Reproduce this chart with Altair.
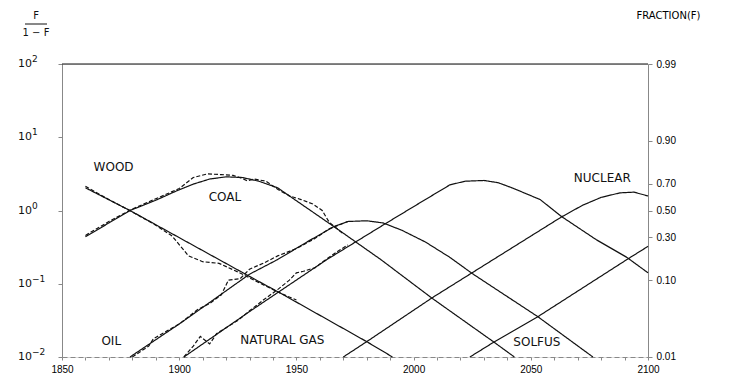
import altair as alt
import pandas as pd

# ---- values: year, F/(1-F) ----
wood_years = [1860, 1879, 1930, 1944, 1980, 1991]
wood_vals = [2.04, 1.0, 0.126, 0.072, 0.0162, 0.01]

coal_years = [1860, 1870, 1879, 1890, 1899, 1906, 1913, 1920, 1927, 1934, 1942, 1966, 1986, 2008, 2034, 2043]
coal_vals = [0.437, 0.676, 1.0, 1.38, 1.86, 2.29, 2.69, 2.88, 2.82, 2.51, 2.04, 0.603, 0.214, 0.063, 0.0162, 0.01]

oil_years = [1879, 1900, 1930, 1942, 1955, 1966, 1972, 1980, 1987, 1995, 2005, 2015.5, 2025, 2053, 2076.5]
oil_vals = [0.01, 0.0282, 0.135, 0.214, 0.38, 0.603, 0.708, 0.724, 0.676, 0.537, 0.372, 0.229, 0.138, 0.0355, 0.01]

gas_years = [1902, 1930, 1963, 1989, 2005, 2015.5, 2022, 2030, 2036, 2042, 2054, 2063, 2078, 2091, 2100]
gas_vals = [0.01, 0.0417, 0.214, 0.692, 1.41, 2.24, 2.51, 2.57, 2.40, 2.04, 1.41, 0.832, 0.398, 0.229, 0.141]

nuclear_years = [1970, 1980, 2008, 2034, 2050, 2063, 2072, 2080, 2088, 2094, 2100]
nuclear_vals = [0.01, 0.0162, 0.0646, 0.214, 0.447, 0.813, 1.175, 1.51, 1.74, 1.78, 1.58]

solfus_years = [2024, 2034, 2053, 2091, 2100]
solfus_vals = [0.01, 0.0158, 0.0355, 0.214, 0.324]

# historical (dashed) data
wood_hist_years = [1860, 1870, 1880, 1890, 1897, 1904, 1910, 1917, 1925, 1935, 1944, 1950]
wood_hist_vals = [2.14, 1.41, 0.955, 0.631, 0.447, 0.24, 0.2, 0.19, 0.145, 0.1, 0.0724, 0.06]

coal_hist_years = [1860, 1870, 1880, 1890, 1900, 1906, 1912, 1918, 1923, 1926, 1929, 1932, 1937, 1942, 1947, 1952, 1957, 1961, 1964, 1970]
coal_hist_vals = [0.457, 0.708, 1.047, 1.445, 1.995, 2.82, 3.16, 3.09, 3.02, 2.8, 2.55, 2.69, 2.51, 1.95, 1.585, 1.41, 1.23, 1.0, 0.692, 0.479]

oil_hist_years = [1880, 1887, 1889, 1895, 1900, 1908, 1913, 1918, 1921, 1926, 1930, 1936, 1942, 1950, 1958, 1964, 1968, 1972]
oil_hist_vals = [0.01, 0.0141, 0.0178, 0.0229, 0.0282, 0.0447, 0.0537, 0.0708, 0.112, 0.117, 0.158, 0.191, 0.24, 0.302, 0.417, 0.562, 0.631, 0.708]

gas_hist_years = [1902, 1906, 1909, 1913, 1916, 1920, 1925, 1930, 1936, 1942, 1947, 1950, 1953, 1958, 1963, 1968, 1972]
gas_hist_vals = [0.01, 0.0141, 0.0191, 0.0151, 0.0209, 0.0251, 0.0316, 0.0427, 0.0603, 0.0832, 0.112, 0.141, 0.148, 0.166, 0.219, 0.282, 0.339]

# curve labels
label_text = ["WOOD", "COAL", "OIL", "NATURAL GAS", "NUCLEAR", "SOLFUS"]
label_years = [1872, 1919.5, 1871, 1944, 2080.5, 2052.6]
label_vals = [3.98, 1.55, 0.0163, 0.017, 2.82, 0.0158]

# axes
left_ticks = [0.01, 0.1, 1, 10, 100]
left_exponents = ["−2", "−1", "0", "1", "2"]
right_fracs = [0.01, 0.10, 0.30, 0.50, 0.70, 0.90, 0.99]
year_ticks = list(range(1850, 2101, 10))
x_range = [1850, 2100]
y_range = [0.01, 100]

rows = []
def add(name, kind, ys, vs):
    for y, v in zip(ys, vs):
        rows.append({"series": name + "_" + kind, "kind": kind, "year": y, "value": v})

add("wood", "model", wood_years, wood_vals)
add("coal", "model", coal_years, coal_vals)
add("oil", "model", oil_years, oil_vals)
add("gas", "model", gas_years, gas_vals)
add("nuclear", "model", nuclear_years, nuclear_vals)
add("solfus", "model", solfus_years, solfus_vals)
add("wood", "data", wood_hist_years, wood_hist_vals)
add("coal", "data", coal_hist_years, coal_hist_vals)
add("oil", "data", oil_hist_years, oil_hist_vals)
add("gas", "data", gas_hist_years, gas_hist_vals)
df = pd.DataFrame(rows)

labels_df = pd.DataFrame({"text": label_text, "year": label_years, "value": label_vals})
right_df = pd.DataFrame({"v": [f / (1 - f) for f in right_fracs], "year": [2100] * len(right_fracs)})
left_df = pd.DataFrame({"v": left_ticks, "exp": left_exponents})

FONT = "DejaVu Sans"
INK = "#111111"
xscale = alt.Scale(domain=x_range, nice=False, zero=False)
yscale = alt.Scale(type="log", domain=y_range, nice=False)

bottom_axis = alt.Axis(
    orient="bottom", values=year_ticks, format="d",
    labelExpr="datum.value % 50 == 0 ? datum.label : ''",
    labelFlush=False, labelOverlap=False, tickSize=3, labelPadding=4,
    domainDash=[5, 3], title=None, grid=False,
)
left_axis = alt.Axis(orient="left", values=left_ticks, labels=False, tickSize=4, title=None, grid=False)
right_axis = alt.Axis(
    orient="right", values=[f / (1 - f) for f in right_fracs],
    labelExpr="format(datum.value/(1+datum.value), '.2f')",
    tickSize=4, labelPadding=4, grid=False,
    title="FRACTION(F)", titleAngle=0, titleX=20, titleY=-49,
    titleAlign="center", titleBaseline="middle", titleFontWeight="normal",
    titleFontSize=10, titleFont=FONT,
)

lines = alt.Chart(df).mark_line(color=INK, strokeWidth=1.2).encode(
    x=alt.X("year:Q", scale=xscale, axis=bottom_axis),
    y=alt.Y("value:Q", scale=yscale, axis=left_axis),
    detail="series:N",
    strokeDash=alt.StrokeDash("kind:N", scale=alt.Scale(domain=["model", "data"], range=[[1, 0], [4, 2]]), legend=None),
)

right = alt.Chart(right_df).mark_point(opacity=0).encode(
    x=alt.X("year:Q", scale=xscale, axis=None),
    y=alt.Y("v:Q", scale=yscale, axis=right_axis),
)

# left tick labels as 10 with raised exponent
ten = alt.Chart(left_df).mark_text(text="10", fontSize=11, font=FONT, color=INK, align="left", baseline="middle").encode(
    x=alt.value(-44), y=alt.Y("v:Q", scale=yscale, axis=None))
exps = alt.Chart(left_df).mark_text(fontSize=9, font=FONT, color=INK, align="left", baseline="middle", dy=-5).encode(
    x=alt.value(-30), y=alt.Y("v:Q", scale=yscale, axis=None), text="exp:N")

one = alt.Data(values=[{"a": 1}])
top_border = alt.Chart(one).mark_rule(color=INK, strokeWidth=1.1).encode(
    x=alt.datum(x_range[0], scale=xscale, axis=None),
    x2=alt.datum(x_range[1]),
    y=alt.datum(y_range[1], scale=yscale, axis=None),
)

labels = alt.Chart(labels_df).mark_text(fontSize=12, font=FONT, color=INK, align="center", baseline="middle").encode(
    x=alt.X("year:Q", scale=xscale, axis=None),
    y=alt.Y("value:Q", scale=yscale, axis=None),
    text="text:N",
)

f_top = alt.Chart(one).mark_text(text="F", fontSize=10, font=FONT, color=INK).encode(
    x=alt.value(-26), y=alt.value(-48))
f_bar = alt.Chart(one).mark_rule(color=INK, strokeWidth=1).encode(
    x=alt.value(-37), x2=alt.value(-15), y=alt.value(-40))
f_bot = alt.Chart(one).mark_text(text="1 − F", fontSize=10, font=FONT, color=INK).encode(
    x=alt.value(-26), y=alt.value(-31))

chart = alt.layer(lines, right, top_border, ten, exps, labels, f_top, f_bar, f_bot).resolve_axis(
    x="independent", y="independent"
).properties(
    width=586, height=293,
    autosize=alt.AutoSizeParams(type="none"),
    padding={"left": 62, "top": 64, "right": 84, "bottom": 23},
).configure_view(stroke=None).configure_axis(
    labelFont=FONT, labelFontSize=10.5, labelColor=INK,
    domainColor=INK, tickColor=INK, domainWidth=1.3,
).configure(background="white")

chart.save("out.html", embed_options={"renderer": "svg", "actions": False})
